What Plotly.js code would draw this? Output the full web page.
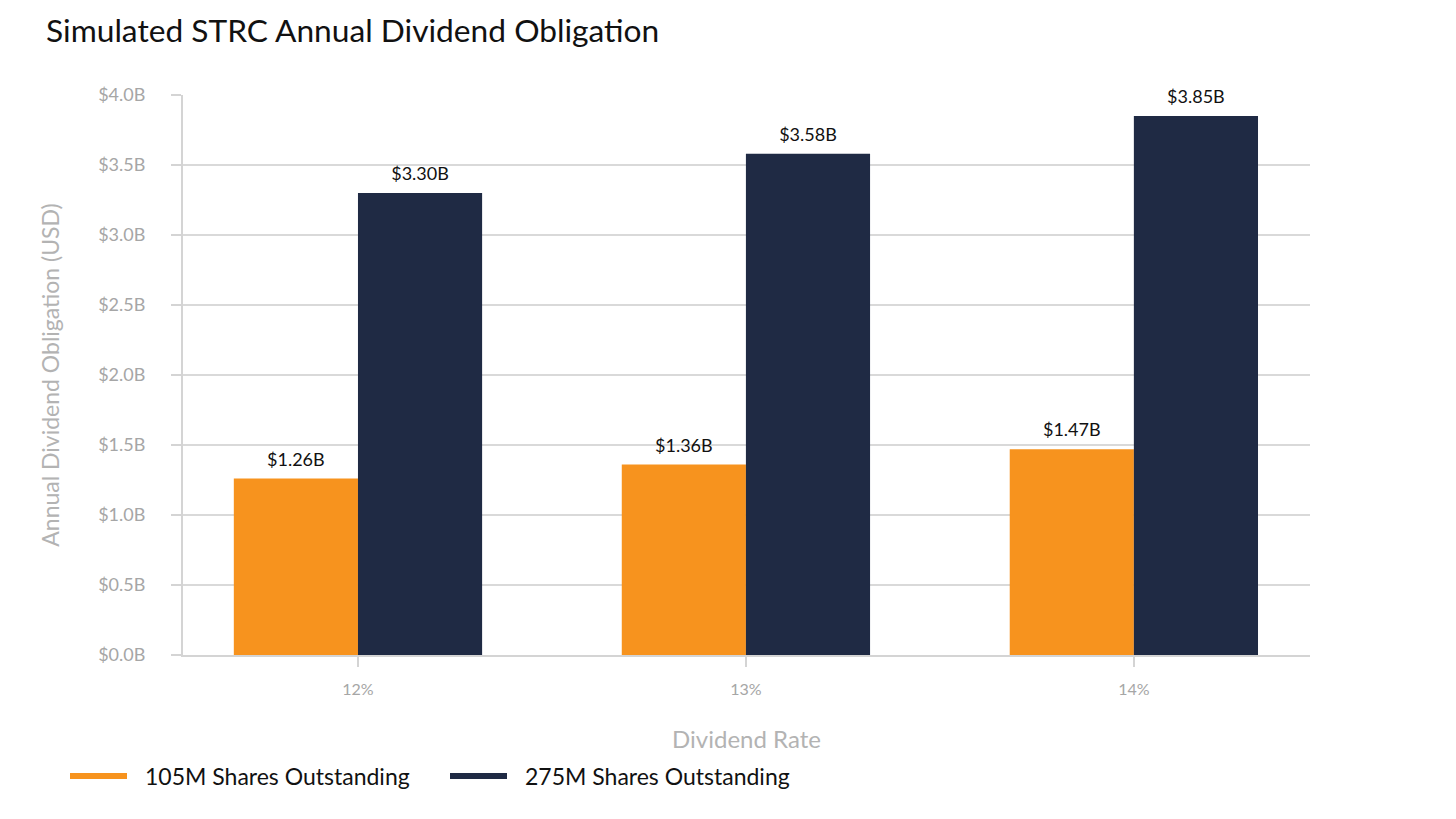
<!DOCTYPE html>
<html>
<head>
<meta charset="utf-8">
<script src="https://cdn.plot.ly/plotly-3.0.1.min.js"></script>
<style>html,body{margin:0;padding:0;background:#fff;}#chart{width:1456px;height:819px;}</style>
</head>
<body>
<div id="chart"></div>
<script>
const categories = ['12%', '13%', '14%'];
const seriesNames = ['105M Shares Outstanding', '275M Shares Outstanding'];
const shares105 = [1.26, 1.36, 1.47];
const shares275 = [3.30, 3.58, 3.85];
const yTickVals = [0, 0.5, 1.0, 1.5, 2.0, 2.5, 3.0, 3.5, 4.0];
const yTickText = ['$0.0B', '$0.5B', '$1.0B', '$1.5B', '$2.0B', '$2.5B', '$3.0B', '$3.5B', '$4.0B'];
const colors = ['#F7931E', '#1F2A44'];

const FONT = 'Lato, "Open Sans", sans-serif';

const series = [shares105, shares275];
const traces = series.map((vals, i) => ({
  type: 'bar',
  x: categories,
  y: vals,
  name: seriesNames[i],
  offsetgroup: 'g' + i,
  marker: {color: colors[i]},
  showlegend: false,
  hoverinfo: 'x+y+name'
}));
series.forEach((vals, i) => traces.push({
  type: 'scatter',
  mode: 'markers+text',
  x: categories,
  y: vals,
  name: seriesNames[i],
  offsetgroup: 'g' + i,
  texttemplate: '$%{y:.2f}B',
  textposition: 'top center',
  marker: {size: 12, color: 'rgba(0,0,0,0)'},
  textfont: {family: FONT, size: 18, color: '#111'},
  cliponaxis: false,
  showlegend: false,
  hoverinfo: 'skip'
}));

const shapes = [];
const annotations = [];
const legendX = [70, 450];
seriesNames.forEach((n, i) => {
  shapes.push({type: 'line', xref: 'paper', yref: 'paper',
    x0: (legendX[i] - 183) / 1127, x1: (legendX[i] + 57 - 183) / 1127,
    y0: (655 - 776) / 560, y1: (655 - 776) / 560,
    line: {color: colors[i], width: 6}});
  annotations.push({xref: 'paper', yref: 'paper',
    x: (legendX[i] + 73 - 183) / 1127, y: (655 - 776) / 560,
    xanchor: 'left', yanchor: 'middle', showarrow: false,
    text: n, font: {family: FONT, size: 23, color: '#111'}});
});

const layout = {
  width: 1456, height: 819,
  margin: {l: 183, r: 146, t: 95, b: 164},
  paper_bgcolor: '#fff', plot_bgcolor: '#fff',
  font: {family: FONT},
  title: {text: 'Simulated STRC Annual Dividend Obligation', x: 46 / 1456, xanchor: 'left', xref: 'container',
    y: 1 - 31 / 819, yanchor: 'middle', yref: 'container',
    font: {family: FONT, size: 31.7, color: '#111'}},
  bargap: 0.36,
  bargroupgap: 0,
  barmode: 'group',
  scattermode: 'group',
  scattergap: 0.36,
  xaxis: {
    type: 'category', range: [-0.451, 2.454],
    showline: true, linecolor: '#d4d4d4', linewidth: 2,
    ticks: 'outside', ticklen: 10, tickcolor: '#d4d4d4', tickwidth: 1.5,
    ticklabelstandoff: 9,
    tickfont: {family: FONT, size: 16, color: '#a6a6a6'},
    showgrid: false, zeroline: false,
    title: {text: 'Dividend Rate', standoff: 34, font: {family: FONT, size: 24, color: '#b3b3b3'}},
    automargin: false
  },
  yaxis: {
    range: [0, 4.0], tickvals: yTickVals, ticktext: yTickText,
    showline: true, linecolor: '#d4d4d4', linewidth: 2,
    ticks: 'outside', ticklen: 10, tickcolor: '#d4d4d4', tickwidth: 2,
    ticklabelstandoff: 22,
    showgrid: true, gridcolor: '#d9d9d9', gridwidth: 2,
    zeroline: false,
    tickfont: {family: FONT, size: 18, color: '#a6a6a6'},
    title: {text: 'Annual Dividend Obligation (USD)', standoff: 32, font: {family: FONT, size: 23, color: '#b3b3b3'}},
    automargin: false
  },
  shapes: shapes,
  annotations: annotations
};

Plotly.newPlot('chart', traces, layout, {displayModeBar: false, staticPlot: true});
</script>
</body>
</html>
